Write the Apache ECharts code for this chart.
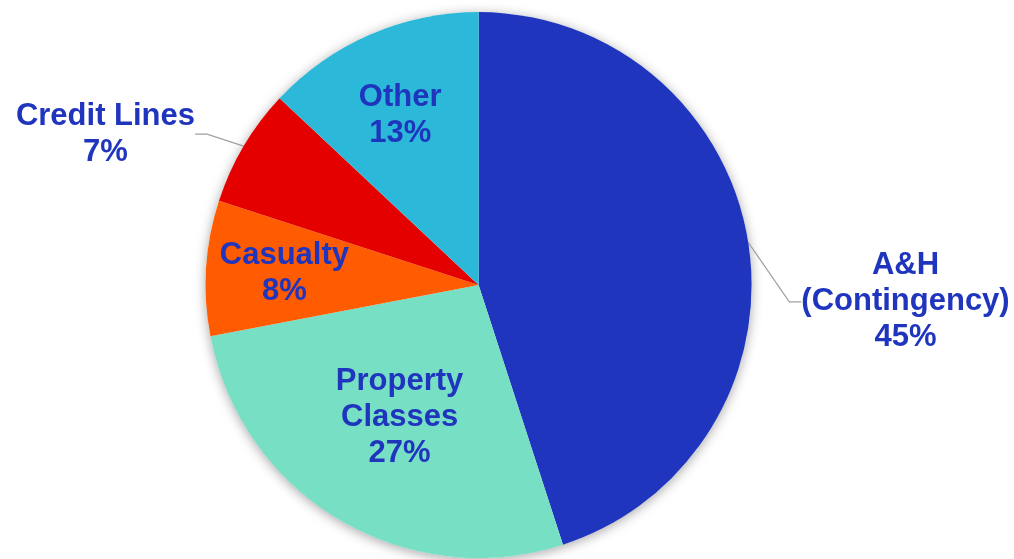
<!DOCTYPE html>
<html>
<head>
<meta charset="utf-8">
<script src="https://cdn.jsdelivr.net/npm/echarts@6/dist/echarts.min.js"></script>
<style>html,body{margin:0;padding:0;background:#fff}#c{width:1014px;height:559px}</style>
</head>
<body>
<div id="c"></div>
<script>
const categories = ['A&H\n(Contingency)', 'Property\nClasses', 'Casualty', 'Credit Lines', 'Other'];
const values = [45, 27, 8, 7, 13];
const colors = ['#1F35BE', '#77DFC4', '#FF5B00', '#E50000', '#2CB8D9'];
const labelColor = '#2035BE';

const chart = echarts.init(document.getElementById('c'), null, {renderer: 'canvas'});
const center = ['47.2%', '51%'];
const radius = 273;

// label placement adjustments (relative to library default positions)
const labelShift = {
  1: {dx: -8, dy: 12},
  2: {dx: -55, dy: -3},
  4: {dx: -23, dy: -42}
};

const data = categories.map((name, i) => {
  const outside = (i === 0 || i === 3);
  return {
    name: name,
    value: values[i],
    itemStyle: {color: colors[i]},
    label: {position: outside ? 'outside' : 'inside'},
    labelLine: {show: outside}
  };
});

chart.setOption({
  animation: false,
  series: [
    {
      type: 'pie', silent: true, center: center, radius: radius,
      data: [{value: 1, itemStyle: {color: '#fff', shadowBlur: 12, shadowColor: 'rgba(0,0,0,0.35)', shadowOffsetY: 2}}],
      label: {show: false}, labelLine: {show: false}, z: 1
    },
    {
      type: 'pie',
      center: center,
      radius: radius,
      startAngle: 90,
      clockwise: true,
      z: 2,
      data: data,
      label: {
        formatter: p => p.name + '\n' + p.value + '%',
        color: labelColor,
        fontFamily: '"Liberation Sans", Arial, sans-serif',
        fontWeight: 'bold',
        fontSize: 31,
        lineHeight: 36,
        align: 'center'
      },
      labelLine: {
        length: 30, length2: 12,
        lineStyle: {color: '#A0A0A0', width: 1.2}
      },
      labelLayout: function (p) {
        const w = chart.getWidth(), h = chart.getHeight();
        if (p.dataIndex === 0) {
          return {x: w * 0.893, y: h * 0.54, align: 'center', verticalAlign: 'middle'};
        }
        if (p.dataIndex === 3) {
          return {x: w * 0.104, y: h * 0.24, align: 'center', verticalAlign: 'middle'};
        }
        return labelShift[p.dataIndex] || {};
      }
    }
  ]
});
</script>
</body>
</html>
